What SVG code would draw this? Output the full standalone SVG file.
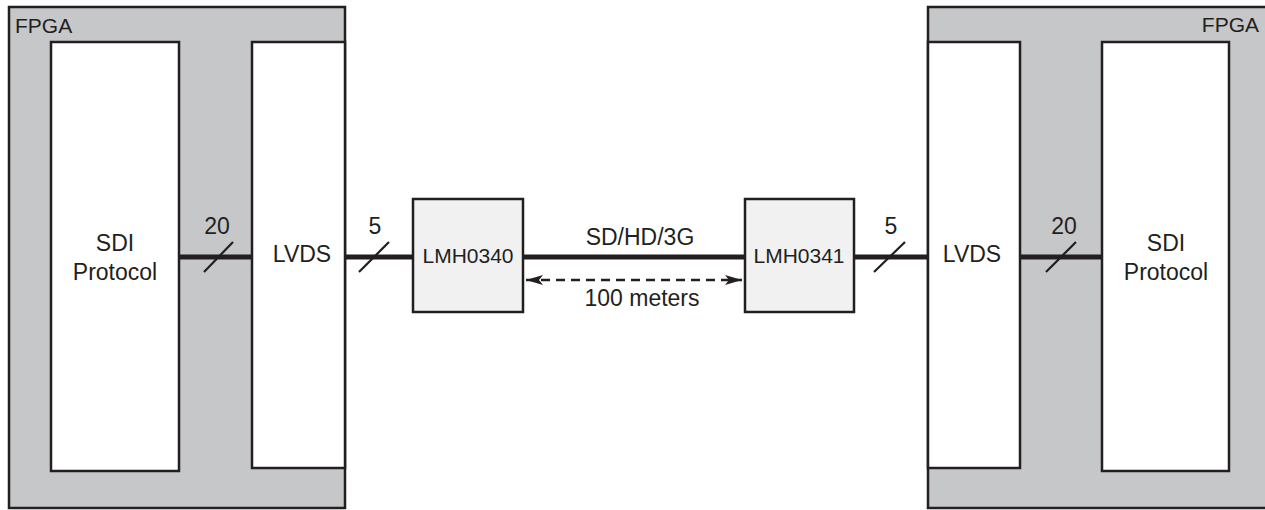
<svg xmlns="http://www.w3.org/2000/svg" width="1265" height="510" viewBox="0 0 1265 510">
<style>
.fpga{fill:#c6c7c9;stroke:#231f20;stroke-width:2.5}
.blk{fill:#ffffff;stroke:#231f20;stroke-width:2.5}
.chip{fill:#f1f1f2;stroke:#231f20;stroke-width:2.5}
.bus{stroke:#231f20;stroke-width:5;fill:none}
.slash{stroke:#231f20;stroke-width:2.2;fill:none}
.dash{stroke:#231f20;stroke-width:2.4;fill:none;stroke-dasharray:9 6}
text{font-family:"Liberation Sans",Arial,sans-serif;fill:#231f20}
.t{font-size:23px;text-anchor:middle}
.s{font-size:21px;text-anchor:middle}
.f{font-size:21px}
</style>
<defs>
<marker id="ah" viewBox="0 0 17 10" refX="17" refY="5" markerWidth="17" markerHeight="10" markerUnits="userSpaceOnUse" orient="auto-start-reverse">
<path d="M0,0 L17,5 L0,10 L4,5 z" fill="#231f20"/>
</marker>
</defs>
<g id="fpga-left">
<rect class="fpga" x="9" y="7" width="336" height="501"/>
<text class="f" x="15" y="33">FPGA</text>
</g>
<g id="fpga-right">
<rect class="fpga" x="928" y="7" width="345" height="501"/>
<text class="f" x="1259" y="32" text-anchor="end">FPGA</text>
</g>
<g id="sdi-left">
<rect class="blk" x="51" y="42" width="128" height="429"/>
<text class="t" x="115" y="251">SDI</text>
<text class="t" x="115" y="280">Protocol</text>
</g>
<g id="lvds-left">
<rect class="blk" x="252" y="42" width="93" height="426"/>
<text class="t" x="302" y="262">LVDS</text>
</g>
<g id="lmh0340">
<rect class="chip" x="413" y="199" width="110" height="113"/>
<text class="s" x="468" y="263">LMH0340</text>
</g>
<g id="lmh0341">
<rect class="chip" x="745" y="199" width="109" height="113"/>
<text class="s" x="799" y="263">LMH0341</text>
</g>
<g id="lvds-right">
<rect class="blk" x="928" y="42" width="92" height="426"/>
<text class="t" x="972" y="262">LVDS</text>
</g>
<g id="sdi-right">
<rect class="blk" x="1102" y="42" width="127" height="429"/>
<text class="t" x="1166" y="251">SDI</text>
<text class="t" x="1166" y="280">Protocol</text>
</g>
<g id="connectors">
<line class="bus" x1="180" y1="257" x2="251" y2="257"/>
<line class="bus" x1="346" y1="257" x2="412" y2="257"/>
<line class="bus" x1="524" y1="257" x2="744" y2="257"/>
<line class="bus" x1="855" y1="257" x2="927" y2="257"/>
<line class="bus" x1="1021" y1="257" x2="1101" y2="257"/>
<line class="slash" x1="204" y1="272" x2="233" y2="242"/>
<line class="slash" x1="359" y1="272" x2="389" y2="242"/>
<line class="slash" x1="874" y1="272" x2="905" y2="242"/>
<line class="slash" x1="1046" y1="272" x2="1076" y2="242"/>
<text class="t" x="217" y="234">20</text>
<text class="t" x="375" y="234">5</text>
<text class="t" x="891" y="234">5</text>
<text class="t" x="1064" y="234">20</text>
<text class="t" x="640" y="245">SD/HD/3G</text>
<line class="dash" x1="526" y1="280" x2="742" y2="280" marker-start="url(#ah)" marker-end="url(#ah)"/>
<text class="t" x="642" y="306">100 meters</text>
</g>
</svg>
